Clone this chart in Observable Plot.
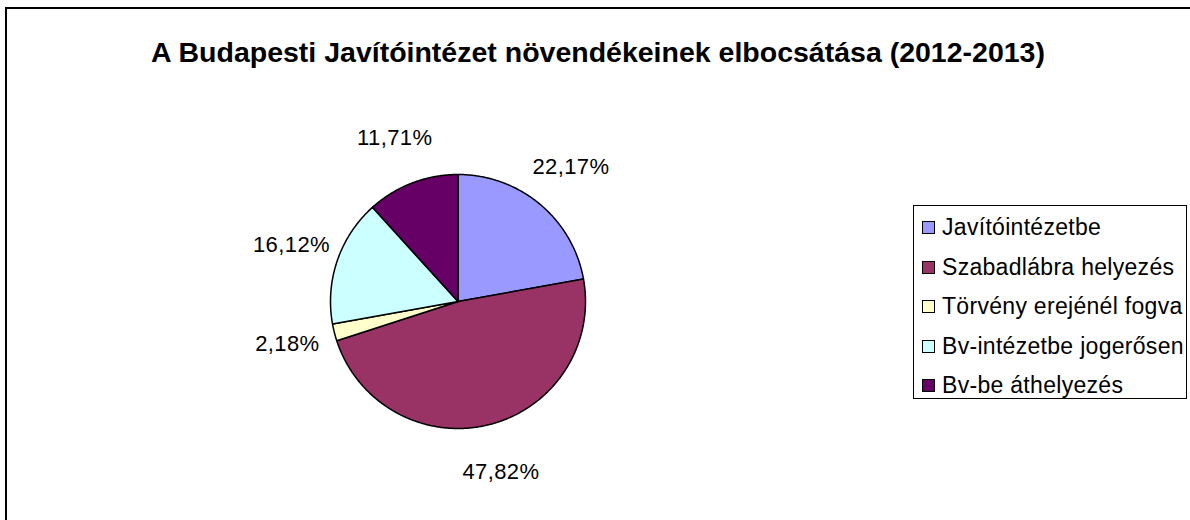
<!DOCTYPE html>
<html>
<head>
<meta charset="utf-8">
<script src="https://cdn.jsdelivr.net/npm/d3@7"></script>
<script src="https://cdn.jsdelivr.net/npm/@observablehq/plot@0.6"></script>
<style>
  html, body { margin: 0; padding: 0; background: #fff; overflow: hidden; }
  #wrap { position: relative; width: 1190px; height: 520px; overflow: hidden; font-family: "Liberation Sans", Arial, sans-serif; }
  #frame { position: absolute; left: 5px; top: 7px; width: 1240px; height: 600px; border: 2px solid #000; box-sizing: border-box; }
  #title { position: absolute; left: 0; width: 1196px; top: 35px; line-height: 34px; text-align: center; font-weight: bold; font-size: 28.5px; color: #000; }
  #chart { position: absolute; left: 0; top: 0; }
  #legend { position: absolute; left: 913px; top: 205px; width: 274px; height: 194px; border: 1px solid #000; box-sizing: border-box; padding-top: 2px; background: #fff; }
  .row { height: 39.5px; display: flex; align-items: center; font-size: 23px; letter-spacing: 0.3px; color: #000; white-space: nowrap; }
  .sw { width: 13px; height: 13px; border: 1px solid #000; box-sizing: border-box; margin-left: 8px; margin-right: 7px; flex: none; }
</style>
</head>
<body>
<div id="wrap">
  <div id="frame"></div>
  <div id="chart"></div>
  <div id="title"></div>
  <div id="legend"></div>
</div>
<script>
const title = "A Budapesti Javítóintézet növendékeinek elbocsátása (2012-2013)";
const categories = ["Javítóintézetbe", "Szabadlábra helyezés", "Törvény erejénél fogva", "Bv-intézetbe jogerősen", "Bv-be áthelyezés"];
const shares = [22.17, 47.82, 2.18, 16.12, 11.71];
const labels = ["22,17%", "47,82%", "2,18%", "16,12%", "11,71%"];
const colors = ["#9999FF", "#993366", "#FFFFCC", "#CCFFFF", "#660066"];

document.getElementById("title").textContent = title;

const total = d3.sum(shares);
const pts = [];
const labs = [];
let acc = 0;
categories.forEach((key, i) => {
  const a0 = acc / total * 2 * Math.PI;
  acc += shares[i];
  const a1 = acc / total * 2 * Math.PI;
  pts.push({key, x: 0, y: 0});
  const n = Math.max(2, Math.ceil((a1 - a0) / (Math.PI / 360)));
  for (let k = 0; k <= n; k++) {
    const a = a0 + (a1 - a0) * k / n;
    pts.push({key, x: Math.sin(a), y: Math.cos(a)});
  }
  pts.push({key, x: 0, y: 0});
  const m = (a0 + a1) / 2;
  labs.push({text: labels[i], x: 1.38 * Math.sin(m), y: 1.38 * Math.cos(m)});
});

const chart = Plot.plot({
  width: 1190,
  height: 520,
  margin: 0,
  style: {background: "transparent", fontFamily: "'Liberation Sans', Arial, sans-serif"},
  x: {domain: [-1, 1], range: [330, 585], axis: null},
  y: {domain: [-1, 1], range: [428, 174], axis: null},
  color: {domain: categories, range: colors},
  marks: [
    Plot.line(pts, {x: "x", y: "y", z: "key", fill: "key", stroke: "#000", strokeWidth: 1.5, strokeLinejoin: "round"}),
    Plot.text(labs, {x: "x", y: "y", text: "text", fontSize: 22, fill: "#000", style: "letter-spacing:0.4px"})
  ]
});
chart.querySelectorAll("text").forEach(t => t.style.letterSpacing = "0.4px");
document.getElementById("chart").appendChild(chart);

const legend = document.getElementById("legend");
categories.forEach((c, i) => {
  const row = document.createElement("div");
  row.className = "row";
  const sw = document.createElement("div");
  sw.className = "sw";
  sw.style.background = colors[i];
  const t = document.createElement("span");
  t.textContent = c;
  row.appendChild(sw);
  row.appendChild(t);
  legend.appendChild(row);
});
</script>
</body>
</html>
